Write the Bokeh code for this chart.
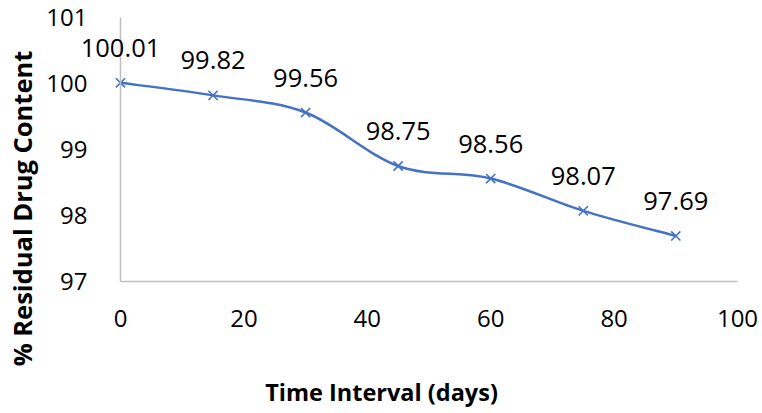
import math
from bokeh.plotting import figure
from bokeh.models import ColumnDataSource, FixedTicker, Range1d, LabelSet, Label
from bokeh.core.properties import value
from bokeh.embed import file_html
from bokeh.resources import INLINE

# Stability study: residual drug content over time
days = [0, 15, 30, 45, 60, 75, 90]
content = [100.01, 99.82, 99.56, 98.75, 98.56, 98.07, 97.69]
x_ticks = [0, 20, 40, 60, 80, 100]
y_ticks = [97, 98, 99, 100, 101]
x_title = "Time Interval (days)"
y_title = "% Residual Drug Content"

BLUE = "#4472C4"
FONT = "Open Sans"

W, H = 762, 413
# plot-area box in pixels (left, right, top, bottom)
PL, PR, PT, PB = 120, 737, 17, 281
X0, X1 = x_ticks[0], x_ticks[-1]
Y0, Y1 = y_ticks[0], y_ticks[-1]
dx = (X1 - X0) / (PR - PL)
dy = (Y1 - Y0) / (PB - PT)

# The frame covers the whole canvas so that labels next to the axes are not cut off;
# the axes are pinned at x=0 and y=97.
p = figure(width=W, height=H, output_backend="svg", toolbar_location=None,
           x_range=Range1d(X0 - PL * dx, X1 + (W - PR) * dx),
           y_range=Range1d(Y0 - (H - PB) * dy, Y1 + PT * dy),
           min_border=0)
p.outline_line_color = None
p.xgrid.visible = False
p.ygrid.visible = False
p.background_fill_color = "white"
p.border_fill_color = "white"

# Smoothed line: cubic Bezier segments with Catmull-Rom control points
n = len(days)
x0, y0, x1, y1, cx0, cy0, cx1, cy1 = [], [], [], [], [], [], [], []
for i in range(n - 1):
    pa = (days[max(i - 1, 0)], content[max(i - 1, 0)])
    pb = (days[i], content[i])
    pc = (days[i + 1], content[i + 1])
    pd = (days[min(i + 2, n - 1)], content[min(i + 2, n - 1)])
    x0.append(pb[0]); y0.append(pb[1])
    x1.append(pc[0]); y1.append(pc[1])
    cx0.append(pb[0] + (pc[0] - pa[0]) / 6); cy0.append(pb[1] + (pc[1] - pa[1]) / 6)
    cx1.append(pc[0] - (pd[0] - pb[0]) / 6); cy1.append(pc[1] - (pd[1] - pb[1]) / 6)
seg = ColumnDataSource(dict(x0=x0, y0=y0, x1=x1, y1=y1, cx0=cx0, cy0=cy0, cx1=cx1, cy1=cy1))
p.bezier(x0="x0", y0="y0", x1="x1", y1="y1", cx0="cx0", cy0="cy0", cx1="cx1", cy1="cy1",
         source=seg, line_color=BLUE, line_width=2.5)

src = ColumnDataSource(dict(x=days, y=content, lbl=[f"{v:.2f}" for v in content]))
p.scatter("x", "y", source=src, marker="x", size=13, line_color=BLUE, line_width=1.6)

# Value labels above each point
p.add_layout(LabelSet(x="x", y="y", text="lbl", source=src, y_offset=35,
                      text_align="center", text_baseline="middle",
                      text_font=value(FONT), text_font_size="25.5px", text_color="black"))

p.xaxis.fixed_location = Y0
p.yaxis.fixed_location = X0
p.xaxis.bounds = (X0, X1)
p.yaxis.bounds = (Y0, Y1)
for ax in (p.xaxis[0], p.yaxis[0]):
    ax.axis_line_color = "#BFBFBF"
    ax.axis_line_width = 1.5
    ax.major_tick_line_color = None
    ax.minor_tick_line_color = None
    ax.major_label_text_font = FONT
    ax.major_label_text_font_size = "24px"
    ax.major_label_text_color = "black"

p.xaxis.ticker = FixedTicker(ticks=x_ticks)
p.yaxis.ticker = FixedTicker(ticks=y_ticks)
p.xaxis.major_label_standoff = 22
p.yaxis.major_label_standoff = 27

# Axis titles, centred on the whole chart area
p.add_layout(Label(x=X0 + (381 - PL) * dx, y=Y0 - (391 - PB) * dy, text=x_title,
                   text_align="center", text_baseline="middle", text_font=FONT,
                   text_font_style="bold", text_font_size="23.5px", text_color="black"))
p.add_layout(Label(x=X0 + (21 - PL) * dx, y=Y0 + (PB - 208) * dy, text=y_title,
                   angle=math.pi / 2, text_align="center", text_baseline="middle",
                   text_font=FONT, text_font_style="bold", text_font_size="25.5px",
                   text_color="black"))

open("out.html", "w").write(file_html(p, INLINE))
